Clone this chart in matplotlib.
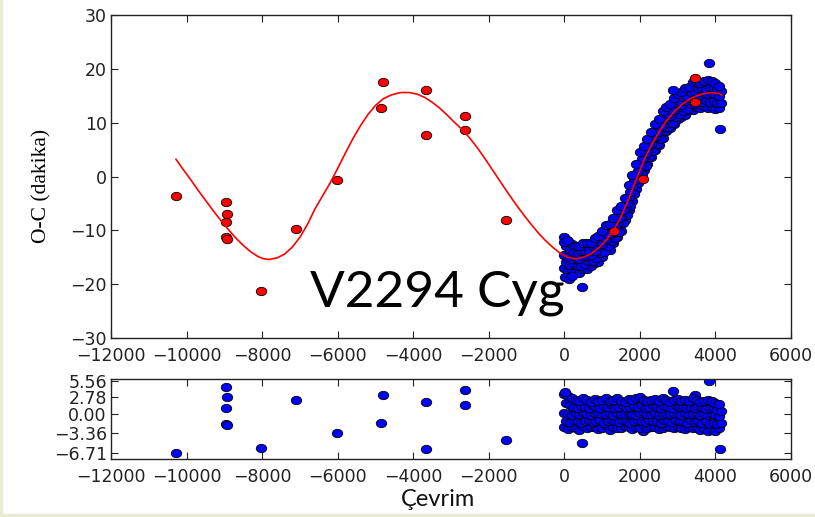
import matplotlib
matplotlib.use('Agg')
import matplotlib.pyplot as plt
from matplotlib.path import Path
from matplotlib.transforms import Affine2D
from matplotlib.patches import Rectangle

# old minima (red) : cycle, O-C (min)
red_cyc = [-10280, -8965, -8940, -8965, -8955, -8940, -8020, -7094, -6008, -4852,
           -4800, -3670, -3670, -2620, -2620, -1543, 1305, 2090, 3467, 3467]
red_oc = [-3.7, -4.7, -7.0, -8.5, -11.3, -11.6, -21.3, -9.8, -0.6, 12.7,
          17.6, 16.0, 7.7, 11.2, 8.6, -8.0, -10.1, -0.4, 18.3, 13.8]

blue_cyc = [0, 100, 200, 300, 400, 500, 600, 700, 800, 900, 1000, 1100, 1200, 1300,
            1400, 1500, 1600, 1700, 1800, 1900, 2000, 2100, 2200, 2300, 2400, 2500,
            2600, 2700, 2800, 2900, 3000, 3100, 3200, 3300, 3400, 3500, 3600, 3700,
            3800, 3900, 4000, 4100]
blue_cyc2 = [50, 150, 250, 350, 450, 550, 650, 750, 850, 950, 1050, 1150, 1250, 1350,
             1450, 1550, 1650, 1750, 1850, 1950, 2050, 2150, 2250, 2350, 2450, 2550,
             2650, 2750, 2850, 2950, 3050, 3150, 3250, 3350, 3450, 3550, 3650, 3750,
             3850, 3950, 4050, 4150]
blue_hi = [-11.3, -12.0, -12.6, -12.9, -13.0, -12.3, -12.4, -12.3, -11.4, -11.0, -10.1,
           -9.1, -8.9, -7.8, -6.2, -5.4, -4.0, -1.5, 0.3, 2.4, 4.6, 5.7, 6.9, 8.3, 9.7,
           10.6, 12.1, 12.9, 13.4, 14.5, 15.4, 15.7, 16.4, 16.6, 17.6, 17.5, 17.4, 17.7,
           18.0, 17.7, 17.4, 16.9]
blue_uh = [-12.9, -13.5, -14.0, -14.3, -13.9, -13.9, -13.8, -12.9, -12.7, -12.2, -11.2,
           -10.6, -9.5, -9.2, -7.7, -6.2, -5.0, -2.9, -0.7, 1.0, 3.2, 4.3, 6.0, 7.4, 8.3,
           9.3, 10.8, 11.7, 12.4, 13.6, 14.0, 14.8, 14.9, 15.7, 15.9, 16.5, 16.5, 16.3,
           16.6, 16.5, 16.2, 15.8]
blue_mid = [-14.5, -15.0, -15.4, -15.2, -15.3, -14.7, -14.7, -14.5, -13.8, -13.0, -12.6,
            -11.7, -10.8, -10.3, -8.8, -7.6, -6.1, -3.8, -2.0, -0.4, 1.8, 3.6, 4.7, 6.0,
            7.4, 8.2, 9.5, 10.6, 11.3, 12.4, 12.9, 13.3, 14.1, 14.5, 14.8, 15.4, 15.2,
            15.5, 15.3, 15.5, 15.3, 14.9]
blue_ul = [-15.9, -16.4, -16.3, -16.6, -16.7, -16.2, -15.7, -15.7, -15.2, -14.3, -14.0,
           -12.9, -12.0, -11.4, -10.3, -8.7, -7.2, -5.5, -3.3, -1.2, 0.5, 1.9, 3.7, 4.7,
           6.0, 6.9, 8.5, 9.2, 10.0, 11.1, 11.7, 12.2, 12.5, 13.4, 13.5, 14.0, 13.8,
           14.2, 13.9, 14.1, 13.7, 13.7]
blue_lo = [-17.0, -17.6, -17.4, -17.7, -18.0, -17.1, -17.2, -16.6, -16.1, -15.8, -14.9,
           -13.7, -13.7, -12.3, -11.3, -10.1, -8.1, -6.3, -4.6, -2.4, -0.7, 1.3, 2.3, 3.7,
           5.0, 5.8, 7.1, 8.4, 9.1, 9.7, 10.7, 11.1, 11.4, 12.3, 12.4, 12.9, 12.7, 13.1,
           12.7, 13.0, 12.5, 12.8]
blue_out_cyc = [0, 80, 30, 120, 200, 468, 2866, 3820, 4129]
blue_out_oc = [-12.2, -11.8, -18.6, -19.0, -18.5, -20.5, 16.0, 21.0, 8.8]

# fitted curve
fit_cyc = [-10280, -10100, -9900, -9700, -9500, -9300, -9100, -8900, -8700, -8500,
           -8300, -8100, -7950, -7800, -7600, -7400, -7200, -7000, -6800, -6600,
           -6400, -6200, -6000, -5800, -5600, -5400, -5200, -5000, -4800, -4600,
           -4400, -4300, -4100, -3900, -3700, -3500, -3300, -3100, -2900, -2700,
           -2500, -2300, -2100, -1900, -1700, -1500, -1300, -1100, -900, -700,
           -500, -300, -100, 100, 300, 500, 700, 900, 1100, 1300,
           1500, 1700, 1900, 2100, 2300, 2500, 2700, 2900, 3100, 3300,
           3500, 3700, 3900, 4100, 4174]
fit_oc = [3.2, 1.4, -0.5, -2.5, -4.4, -6.3, -8.1, -9.8, -11.4, -12.8,
          -14.0, -14.9, -15.3, -15.4, -15.1, -14.4, -13.1, -11.3, -8.9, -6.0,
          -3.6, -1.2, 1.5, 4.3, 7.0, 9.4, 11.5, 13.2, 14.4, 15.1,
          15.5, 15.6, 15.6, 15.3, 14.7, 13.8, 12.7, 11.4, 10.0, 8.7,
          7.1, 5.3, 3.3, 1.2, -0.9, -3.0, -5.0, -6.9, -8.7, -10.4,
          -11.9, -13.2, -14.3, -15.0, -15.3, -15.0, -14.4, -13.3, -11.9, -10.0,
          -7.5, -4.2, -0.6, 2.9, 5.8, 8.2, 10.3, 12.0, 13.3, 14.3,
          15.0, 15.4, 15.6, 15.4, 15.1]

# residuals
res_old_cyc = red_cyc
res_old = [-6.71, 4.5, 2.8, 0.9, -1.8, -2.0, -5.9, 2.3, -3.36, -1.5,
           3.1, 2.0, -6.0, 4.0, 1.5, -4.4, 0.0, -3.0, 3.1, -1.4]
res_hi = [3.4, 3.0, 2.6, 2.4, 2.2, 2.7, 2.3, 2.0, 2.5, 2.2, 2.4, 2.6, 2.1, 2.3, 2.7, 2.2,
          2.0, 2.5, 2.3, 2.6, 2.9, 2.4, 2.1, 2.3, 2.5, 2.2, 2.6, 2.4, 2.0, 2.3, 2.5, 2.2,
          2.4, 2.1, 2.7, 2.3, 2.0, 2.2, 2.4, 2.1, 1.9, 1.6]
res_uh = [1.8, 1.5, 1.2, 1.0, 1.3, 1.1, 0.9, 1.4, 1.2, 1.0, 1.3, 1.1, 1.5, 0.9, 1.2, 1.4,
          1.0, 1.1, 1.3, 1.2, 1.5, 1.0, 1.2, 1.4, 1.1, 0.9, 1.3, 1.2, 1.0, 1.4, 1.1, 1.3,
          0.9, 1.2, 1.0, 1.3, 1.1, 0.8, 1.0, 0.9, 0.7, 0.5]
res_mid = [0.2, 0.0, -0.2, 0.1, -0.1, 0.3, 0.0, -0.2, 0.1, 0.2, -0.1, 0.0, 0.2, -0.2, 0.1,
           0.0, -0.1, 0.2, 0.0, -0.2, 0.1, 0.3, -0.1, 0.0, 0.2, -0.2, 0.0, 0.1, -0.1, 0.2,
           0.0, -0.2, 0.1, 0.0, -0.1, 0.2, -0.2, 0.0, -0.3, -0.1, -0.2, -0.4]
res_ul = [-1.2, -1.4, -1.1, -1.3, -1.5, -1.2, -1.0, -1.4, -1.3, -1.1, -1.5, -1.2, -1.0,
          -1.3, -1.4, -1.1, -1.2, -1.5, -1.3, -1.0, -1.2, -1.4, -1.1, -1.3, -1.2, -1.5,
          -1.0, -1.3, -1.4, -1.1, -1.2, -1.3, -1.5, -1.1, -1.4, -1.2, -1.6, -1.3, -1.7,
          -1.5, -1.8, -1.6]
res_lo = [-2.3, -2.6, -2.2, -2.4, -2.8, -2.1, -2.5, -2.3, -2.2, -2.6, -2.4, -2.0, -2.7,
          -2.2, -2.4, -2.5, -2.1, -2.3, -2.6, -2.2, -2.4, -2.0, -2.5, -2.3, -2.2, -2.6,
          -2.4, -2.1, -2.3, -2.5, -2.2, -2.4, -2.6, -2.2, -2.5, -2.3, -2.7, -2.4, -2.9,
          -2.6, -3.0, -2.5]
res_out_cyc = [20, 468, 2866, 3820, 4129]
res_out = [3.7, -4.9, 3.9, 5.56, -6.0]

x_ticks = [-12000, -10000, -8000, -6000, -4000, -2000, 0, 2000, 4000, 6000]
oc_ticks = [-30, -20, -10, 0, 10, 20, 30]
res_ticks = [5.56, 2.78, 0.00, -3.36, -6.71]
res_tick_labels = ['5.56', '2.78', '0.00', '\u22123.36', '\u22126.71']

# slightly wide ellipse marker (the slide was stretched sideways)
ell = Path.unit_circle().transformed(Affine2D().scale(1.25, 1.0))
mk = dict(marker=ell, linestyle='none', ms=7.5, mec='black', mew=0.6)

fig = plt.figure(figsize=(8.15, 5.17), dpi=100)
fig.patches.append(Rectangle((0, 0), 0.003, 1, transform=fig.transFigure,
                             color='#e9ecd2', zorder=0))
fig.patches.append(Rectangle((0, 0), 1, 0.006, transform=fig.transFigure,
                             color='#e9ecd2', zorder=0))

ax1 = fig.add_axes([0.1362, 0.3462, 0.8344, 0.6248])
ax2 = fig.add_axes([0.1362, 0.1122, 0.8344, 0.1547])

for cx, row in [(blue_cyc, blue_lo), (blue_cyc2, blue_ul), (blue_cyc, blue_mid),
                (blue_cyc2, blue_uh), (blue_cyc, blue_hi)]:
    ax1.plot(cx, row, color='blue', **mk)
ax1.plot(blue_out_cyc, blue_out_oc, color='blue', **mk)
ax1.plot(red_cyc, red_oc, color='red', **mk)
ax1.plot(fit_cyc, fit_oc, color='red', lw=1.2)

ax1.set_xlim(-12000, 6000)
ax1.set_ylim(-30, 30)
ax1.set_xticks(x_ticks)
ax1.set_yticks(oc_ticks)
ax1.set_ylabel('O-C (dakika)', family='Liberation Serif', fontsize=15.5)
ax1.yaxis.set_label_coords(-0.088, 0.47)

ax2.plot(res_old_cyc, res_old, color='blue', **mk)
for cx, row in [(blue_cyc, res_lo), (blue_cyc2, res_ul), (blue_cyc, res_mid),
                (blue_cyc2, res_uh), (blue_cyc, res_hi)]:
    ax2.plot(cx, row, color='blue', **mk)
ax2.plot(res_out_cyc, res_out, color='blue', **mk)
ax2.set_xlim(-12000, 6000)
ax2.set_ylim(-7.7, 5.9)
ax2.set_xticks(x_ticks)
ax2.set_yticks(res_ticks)
ax2.set_yticklabels(res_tick_labels)

for ax in (ax1, ax2):
    ax.tick_params(direction='in', top=True, right=True, length=5, width=0.8,
                   labelsize=12.5, pad=3, colors='#222222')
    ax.tick_params(axis='x', pad=6.5)
    for s in ax.spines.values():
        s.set_linewidth(1.0)
        s.set_color('#222222')

fig.text(0.538, 1 - 506 / 517, '\u00c7evrim', ha='center', va='baseline',
         fontsize=17, family='Lato', color='#111111')
ax1.text(0.537, 1 - 307 / 517, 'V2294 Cyg', transform=fig.transFigure,
         ha='center', va='baseline', fontsize=37, family='Lato',
         color='black')

fig.savefig('out.png', dpi=100)
